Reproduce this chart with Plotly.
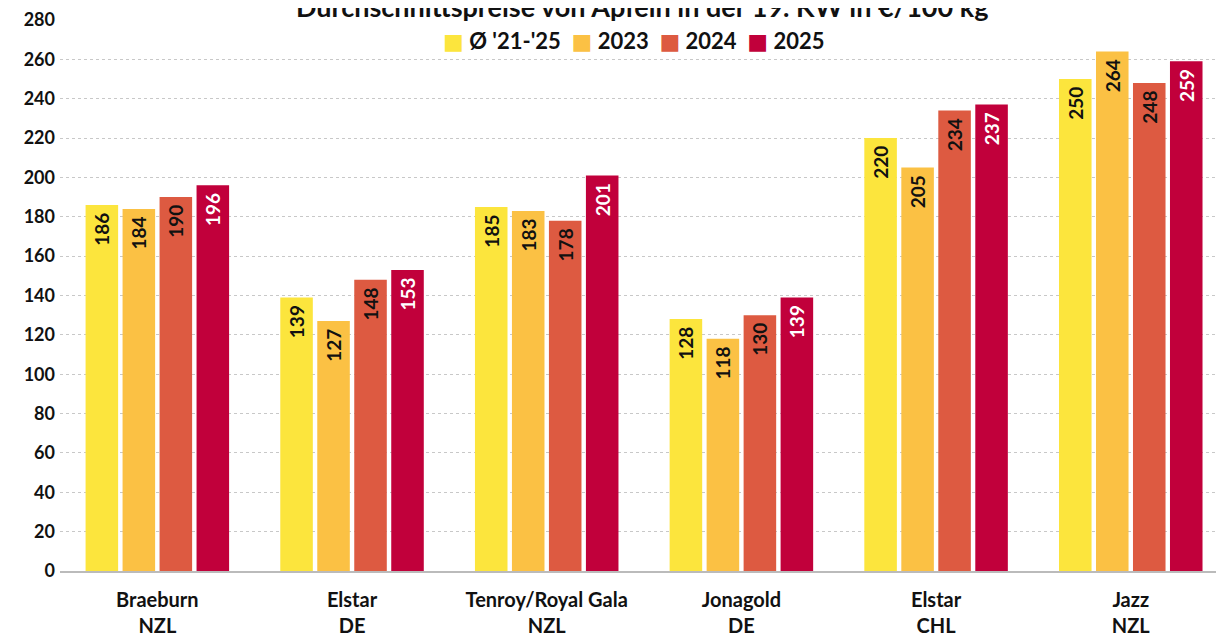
import plotly.graph_objects as go

categories = ["Braeburn<br>NZL", "Elstar<br>DE", "Tenroy/Royal Gala<br>NZL", "Jonagold<br>DE", "Elstar<br>CHL", "Jazz<br>NZL"]
series_names = ["Ø '21-'25", "2023", "2024", "2025"]
avg_21_25 = [186, 139, 185, 128, 220, 250]
y2023 = [184, 127, 183, 118, 205, 264]
y2024 = [190, 148, 178, 130, 234, 248]
y2025 = [196, 153, 201, 139, 237, 259]
y_ticks = list(range(0, 281, 20))
title_text = "Durchschnittspreise von Äpfeln in der 19. KW in €/100 kg"

colors = ["#FCE53D", "#FBC144", "#DD5A41", "#C1003B"]
text_colors = ["#111111", "#111111", "#111111", "#FFFFFF"]
FONT = "Lato"

fig = go.Figure()
for name, vals, c, tc in zip(series_names, [avg_21_25, y2023, y2024, y2025], colors, text_colors):
    fig.add_trace(go.Bar(
        x=categories, y=vals, name=name, marker=dict(color=c, line=dict(width=0)),
        text=[str(v) + "\u00a0" for v in vals], textposition="inside", insidetextanchor="end",
        textangle=-90, textfont=dict(family=FONT, size=19, color=tc, weight="bold"),
        constraintext="none", cliponaxis=False, showlegend=False,
    ))

# custom legend (compact spacing like the reference)
legend_parts = []
for name, c in zip(series_names, colors):
    legend_parts.append(f"<span style='color:{c};font-family:DejaVu Sans'>■</span> {name}")
legend_text = "  ".join(legend_parts)

fig.add_annotation(text=legend_text, xref="paper", yref="paper", x=0.489, y=0.962,
                   xanchor="center", yanchor="middle", showarrow=False,
                   font=dict(family=FONT, size=22, color="#111111", weight="bold"))
fig.add_annotation(text=title_text, xref="paper", yref="paper", x=0.497, y=1.024,
                   xanchor="center", yanchor="middle", showarrow=False,
                   font=dict(family=FONT, size=27, color="#111111", weight="bold"))

fig.update_layout(
    width=1224, height=635,
    margin=dict(l=52, r=0, t=12, b=72, autoexpand=False),
    paper_bgcolor="white", plot_bgcolor="white",
    barmode="group", bargap=0.24, bargroupgap=0.12,
    font=dict(family=FONT, color="#111111"),
    showlegend=False,
    uniformtext=dict(mode=False),
)
fig.update_yaxes(range=[0, 280], tickvals=y_ticks, showgrid=True, gridcolor="#C8C8C8",
                 griddash="dot", gridwidth=1, zeroline=False, showline=False,
                 tickfont=dict(family=FONT, size=18, color="#111111", weight="bold"),
                 ticks="", ticklabelstandoff=4, automargin=False)
fig.update_xaxes(range=[-0.5, 5.52], showline=True, linecolor="#BBBBBB", linewidth=1.5, ticks="",
                 tickfont=dict(family=FONT, size=20, color="#111111", weight="bold"),
                 ticklabelstandoff=10, automargin=False)

fig.write_html("out.html")
